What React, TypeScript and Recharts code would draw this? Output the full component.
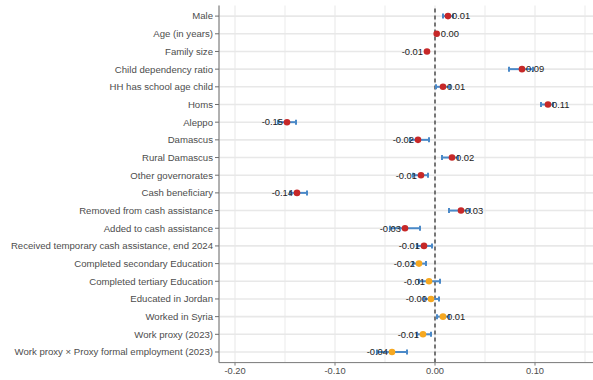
import { ScatterChart, Scatter, XAxis, YAxis, CartesianGrid, ReferenceLine, ErrorBar } from 'recharts'

// coefficient plot, rows from top to bottom
const categories = [
  'Male',
  'Age (in years)',
  'Family size',
  'Child dependency ratio',
  'HH has school age child',
  'Homs',
  'Aleppo',
  'Damascus',
  'Rural Damascus',
  'Other governorates',
  'Cash beneficiary',
  'Removed from cash assistance',
  'Added to cash assistance',
  'Received temporary cash assistance, end 2024',
  'Completed secondary Education',
  'Completed tertiary Education',
  'Educated in Jordan',
  'Worked in Syria',
  'Work proxy (2023)',
  'Work proxy × Proxy formal employment (2023)',
]
const estimates = [0.013, 0.0017, -0.008, 0.087, 0.008, 0.113, -0.148, -0.017, 0.017, -0.014, -0.138, 0.026, -0.03, -0.011, -0.016, -0.006, -0.004, 0.008, -0.012, -0.043]
const lower = [0.008, 0.0007, -0.009, 0.074, 0.001, 0.106, -0.157, -0.025, 0.007, -0.022, -0.145, 0.014, -0.045, -0.018, -0.022, -0.016, -0.011, 0.002, -0.018, -0.058]
const upper = [0.018, 0.0027, -0.007, 0.098, 0.015, 0.118, -0.139, -0.006, 0.023, -0.007, -0.128, 0.035, -0.015, -0.003, -0.009, 0.005, 0.004, 0.014, -0.004, -0.028]
const groups = [
  'base', 'base', 'base', 'base', 'base', 'base', 'base', 'base', 'base', 'base',
  'base', 'base', 'base', 'base', 'edu', 'edu', 'edu', 'edu', 'edu', 'edu',
]
const xTicks = [-0.2, -0.1, 0, 0.1]
const minorTicks = [-0.15, -0.05, 0.05, 0.15]

const groupColors: Record<string, string> = { base: '#C62828', edu: '#F6A821' }

const font = '"Liberation Sans", Arial, sans-serif'
const domain: [number, number] = [-0.216, 0.165]

// rows sit on a numeric axis (index of the category)
const rowIndex = categories.map((_, i) => i)
const rowDomain: [number, number] = [-0.6, categories.length - 0.4]

const data = categories.map((name, i) => ({
  name,
  row: rowIndex[i],
  est: estimates[i],
  err: [estimates[i] - lower[i], upper[i] - estimates[i]],
  group: groups[i],
}))

const PointWithLabel = (props: any) => {
  const { cx, cy, payload } = props
  const pos = payload.est >= 0
  return (
    <g>
      <circle cx={cx} cy={cy} r={3.3} fill={groupColors[payload.group]} />
      <text
        x={pos ? cx + 4 : cx - 4}
        y={cy}
        dy="0.35em"
        textAnchor={pos ? 'start' : 'end'}
        fontSize={9.4}
        fontFamily={font}
        fill="#222"
      >
        {payload.est.toFixed(2)}
      </text>
    </g>
  )
}

// single-line category label (recharts would wrap the long ones)
const CategoryTick = (props: any) => {
  const { x, y, payload } = props
  return (
    <text x={x} y={y} dy="0.35em" textAnchor="end" fontSize={9.6} fontFamily={font} fill="#4d4d4d">
      {categories[payload.value]}
    </text>
  )
}

const App = () => {
  return (
    <div style={{ position: 'absolute', left: 0, top: 0, width: 593, height: 380, overflow: 'hidden', background: '#fff' }}>
      <ScatterChart width={600} height={380} margin={{ top: 5.5, right: 0, bottom: 0, left: 0 }}>
        <CartesianGrid stroke="#ebebeb" strokeWidth={1.2} horizontal={false} />
        {minorTicks.map((t) => (
          <ReferenceLine key={`v${t}`} x={t} stroke="#ebebeb" strokeWidth={1} />
        ))}
        {rowIndex.map((r) => (
          <ReferenceLine key={`h${r}`} y={r} stroke="#e8e8e8" strokeWidth={1.6} />
        ))}
        <YAxis
          type="number"
          dataKey="row"
          domain={rowDomain}
          ticks={rowIndex}
          reversed
          allowDataOverflow
          width={219}
          interval={0}
          tickSize={4}
          tickMargin={2}
          tick={<CategoryTick />}
          stroke="#6e6e6e"
        />
        <XAxis
          type="number"
          dataKey="est"
          domain={domain}
          ticks={xTicks}
          allowDataOverflow
          height={17.4}
          tickSize={3}
          tickMargin={2}
          tickFormatter={(v: number) => v.toFixed(2)}
          tick={{ fontSize: 9.3, fill: '#4d4d4d', fontFamily: font }}
          stroke="#7a7a7a"
        />
        <XAxis
          xAxisId="top"
          orientation="top"
          type="number"
          domain={domain}
          height={0}
          tick={false}
          tickLine={false}
          stroke="#a6a6a6"
        />
        <ReferenceLine x={0} stroke="#333" strokeWidth={1.3} strokeDasharray="4 3" />
        <Scatter data={data} dataKey="est" isAnimationActive={false} shape={<PointWithLabel />}>
          <ErrorBar dataKey="err" direction="x" width={2.5} stroke="#4A89C8" strokeWidth={2} />
        </Scatter>
      </ScatterChart>
    </div>
  )
}

export default App
